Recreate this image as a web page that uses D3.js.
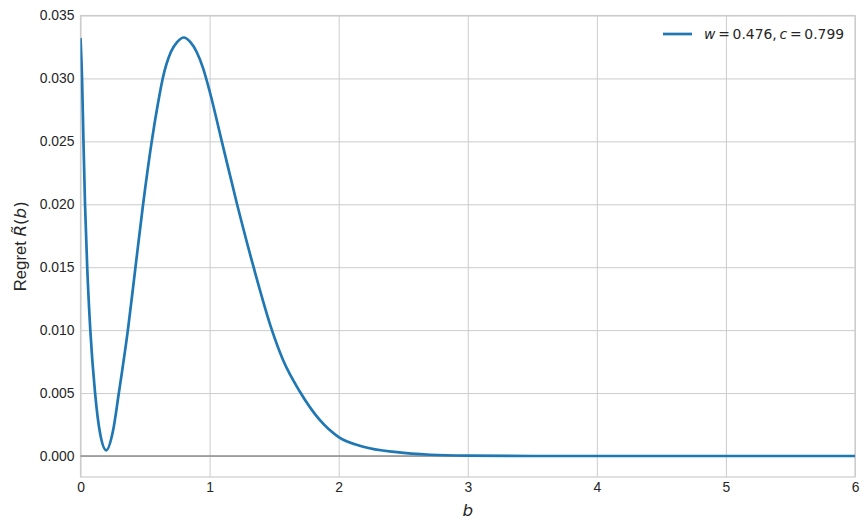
<!DOCTYPE html>
<html>
<head>
<meta charset="utf-8">
<script src="https://cdn.jsdelivr.net/npm/d3@7"></script>
<style>
  html, body { margin: 0; padding: 0; background: #fff; }
  svg { display: block; }
</style>
</head>
<body>
<svg id="chart" width="868" height="529"></svg>
<script>
// ---- data ----
const bValues = [0.000, 0.012, 0.023, 0.035, 0.052, 0.076, 0.113, 0.150, 0.200, 0.250, 0.297, 0.367, 0.426, 0.485, 0.552, 0.600, 0.637, 0.700, 0.750, 0.800, 0.850, 0.900, 0.950, 1.000, 1.097, 1.213, 1.341, 1.483, 1.570, 1.700, 1.850, 2.000, 2.190, 2.450, 2.710, 3.000, 3.500, 4.000, 5.000, 6.000];
const regretValues = [0.0332, 0.0300, 0.0250, 0.0200, 0.0150, 0.0100, 0.0050, 0.0019, 0.00045, 0.0019, 0.0050, 0.0100, 0.0150, 0.0200, 0.0250, 0.0280, 0.0300, 0.0321, 0.0329, 0.03325, 0.0329, 0.0321, 0.0308, 0.0290, 0.0249, 0.0200, 0.0150, 0.0100, 0.0076, 0.0051, 0.0029, 0.0015, 0.00074, 0.0003, 0.0001, 0.00003, 0.0, 0.0, 0.0, 0.0];
const xTicks = [0, 1, 2, 3, 4, 5, 6];
const yTicks = [0.000, 0.005, 0.010, 0.015, 0.020, 0.025, 0.030, 0.035];
const seriesLabel = { w: "0.476", c: "0.799" };

// ---- layout ----
const svg = d3.select("#chart");
const margin = { left: 80.5, right: 855, top: 15.5, bottom: 477 };
const x = d3.scaleLinear().domain([0, 6]).range([margin.left, margin.right]);
const y = d3.scaleLinear().domain([-0.00167, 0.035]).range([margin.bottom, margin.top]);

const gridColor = "#cccccc";
const tickFont = "'Liberation Sans', Arial, sans-serif";
const mathFont = "'DejaVu Sans', sans-serif";

// grid
const gx = svg.append("g")
  .attr("transform", `translate(0,${margin.bottom})`)
  .call(d3.axisBottom(x).tickValues(xTicks).tickSize(-(margin.bottom - margin.top)).tickPadding(5).tickFormat(d3.format("d")));
gx.select(".domain").remove();
gx.selectAll("line").attr("stroke", gridColor).attr("stroke-width", 1);
gx.selectAll("text").attr("font-family", tickFont).attr("font-size", "13.9px").attr("fill", "#262626").attr("dy", "0.95em").attr("y", 2);

const gy = svg.append("g")
  .attr("transform", `translate(${margin.left},0)`)
  .call(d3.axisLeft(y).tickValues(yTicks).tickSize(-(margin.right - margin.left)).tickPadding(6).tickFormat(d3.format(".3f")));
gy.select(".domain").remove();
gy.selectAll("line").attr("stroke", gridColor).attr("stroke-width", 1);
gy.selectAll("text").attr("font-family", tickFont).attr("font-size", "13.9px").attr("fill", "#262626");

// frame
svg.append("rect")
  .attr("x", margin.left).attr("y", margin.top)
  .attr("width", margin.right - margin.left).attr("height", margin.bottom - margin.top)
  .attr("fill", "none").attr("stroke", gridColor).attr("stroke-width", 1.2);

// zero line
svg.append("line")
  .attr("x1", margin.left).attr("x2", margin.right)
  .attr("y1", y(0)).attr("y2", y(0))
  .attr("stroke", "#8c8c8c").attr("stroke-width", 1.3);

// curve
const pts = bValues.map((b, i) => [b, regretValues[i]]);
const line = d3.line().x(d => x(d[0])).y(d => y(d[1])).curve(d3.curveMonotoneX);
svg.append("defs").append("clipPath").attr("id", "clip")
  .append("rect").attr("x", margin.left).attr("y", margin.top)
  .attr("width", margin.right - margin.left).attr("height", margin.bottom - margin.top);
svg.append("path")
  .datum(pts)
  .attr("clip-path", "url(#clip)")
  .attr("d", line)
  .attr("fill", "none")
  .attr("stroke", "#1f77b4")
  .attr("stroke-width", 2.7)
  .attr("stroke-linejoin", "round");

// legend
const lg = svg.append("g");
lg.append("line").attr("x1", 663).attr("x2", 692).attr("y1", 34).attr("y2", 34)
  .attr("stroke", "#1f77b4").attr("stroke-width", 2.7);
const lt = lg.append("text").attr("x", 704).attr("y", 39)
  .attr("font-family", mathFont).attr("font-size", "13.9px").attr("fill", "#262626");
lt.append("tspan").attr("font-style", "italic").text("w");
lt.append("tspan").text("\u2009=\u2009" + seriesLabel.w + ",\u2009");
lt.append("tspan").attr("font-style", "italic").text("c");
lt.append("tspan").text("\u2009=\u2009" + seriesLabel.c);

// axis labels
svg.append("text")
  .attr("x", (margin.left + margin.right) / 2).attr("y", 516)
  .attr("text-anchor", "middle")
  .attr("font-family", mathFont).attr("font-style", "italic")
  .attr("font-size", "16.7px").attr("fill", "#262626")
  .text("b");

const yl = svg.append("text")
  .attr("transform", `translate(26,${(margin.top + margin.bottom) / 2}) rotate(-90)`)
  .attr("text-anchor", "middle")
  .attr("font-size", "16.7px").attr("fill", "#262626");
yl.append("tspan").attr("font-family", tickFont).text("Regret ");
yl.append("tspan").attr("font-family", mathFont).attr("font-style", "italic").text("R\u0303");
yl.append("tspan").attr("font-family", mathFont).text("(");
yl.append("tspan").attr("font-family", mathFont).attr("font-style", "italic").text("b");
yl.append("tspan").attr("font-family", mathFont).text(")");
</script>
</body>
</html>
